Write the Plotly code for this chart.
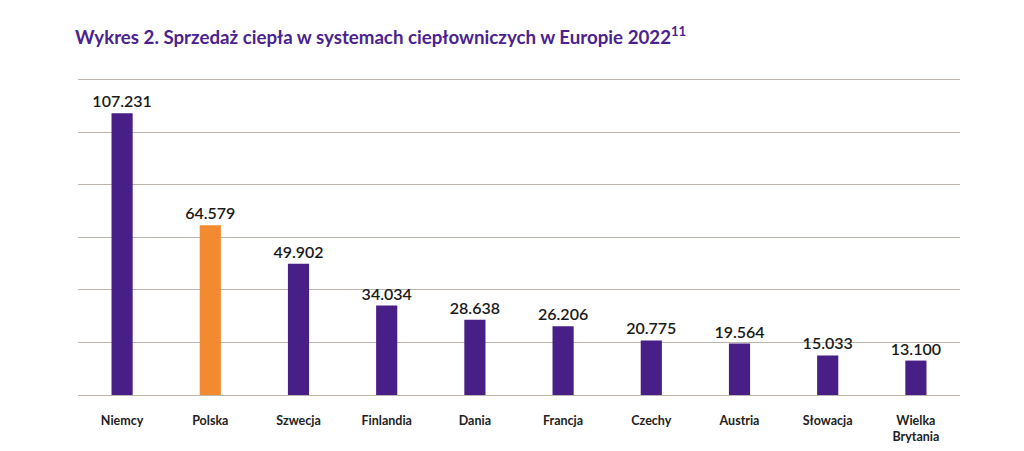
import plotly.graph_objects as go

categories = ["Niemcy", "Polska", "Szwecja", "Finlandia", "Dania", "Francja",
              "Czechy", "Austria", "Słowacja", "Wielka<br>Brytania"]
values = [107231, 64579, 49902, 34034, 28638, 26206, 20775, 19564, 15033, 13100]
highlight = "Polska"

PURPLE = "#471f87"
ORANGE = "#f28a32"
colors = [ORANGE if c == highlight else PURPLE for c in categories]

fig = go.Figure(go.Bar(
    x=categories, y=values,
    marker=dict(color=colors, line=dict(width=0)),
    texttemplate="%{y:,}", textposition="outside",
    constraintext="none",
    textfont=dict(family="Lato", size=16, color="#1a1a1a", weight=600),
    cliponaxis=False,
))

fig.update_layout(
    width=1024, height=451,
    margin=dict(l=78, r=64, t=77, b=56),
    paper_bgcolor="white", plot_bgcolor="white",
    separators=",.",
    bargap=0.76,
    showlegend=False,
    title=dict(
        text="<b>Wykres 2. Sprzedaż ciepła w systemach ciepłowniczych w Europie 2022<sup>11</sup></b>",
        x=0, xref="paper", xanchor="left", y=0.918, yref="container", yanchor="middle",
        font=dict(family="Lato", size=18.7, color="#4b2390"),
        pad=dict(l=-3),
    ),
    font=dict(family="Lato"),
)
fig.update_yaxes(range=[0, 121000], dtick=20000, showticklabels=False,
                 showgrid=True, gridcolor="#bdb5ab", gridwidth=1.3,
                 zeroline=True, zerolinecolor="#bdb5ab", zerolinewidth=1.3)
fig.update_xaxes(showgrid=False, showline=False, ticks="", automargin=False,
                 tickfont=dict(family="Lato", size=12.5, color="#222222", weight="bold"),
                 ticklabelstandoff=16)

fig.write_html("out.html")
